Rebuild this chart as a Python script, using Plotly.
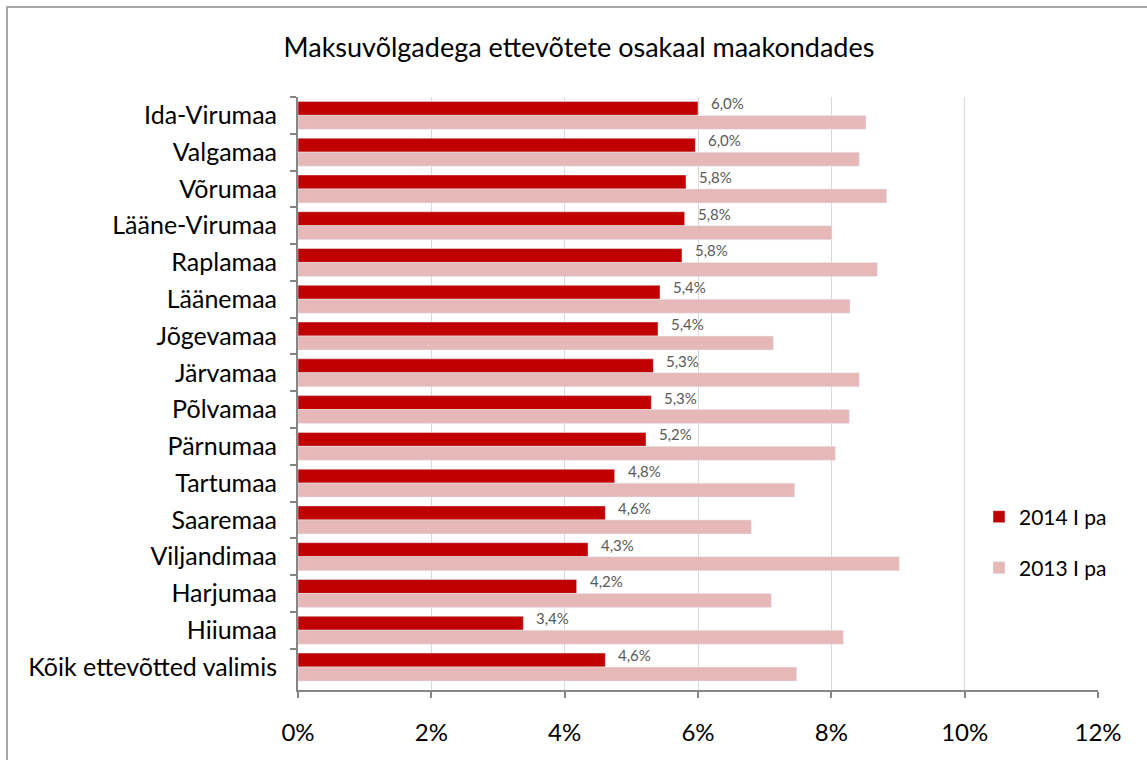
import plotly.graph_objects as go

counties = ["Ida-Virumaa", "Valgamaa", "Võrumaa", "Lääne-Virumaa", "Raplamaa",
            "Läänemaa", "Jõgevamaa", "Järvamaa", "Põlvamaa", "Pärnumaa",
            "Tartumaa", "Saaremaa", "Viljandimaa", "Harjumaa", "Hiiumaa",
            "Kõik ettevõtted valimis"]
share_2014 = [6.0, 5.96, 5.82, 5.80, 5.76, 5.43, 5.40, 5.33, 5.30, 5.22,
              4.75, 4.61, 4.35, 4.18, 3.38, 4.61]
share_2013 = [8.52, 8.42, 8.83, 8.01, 8.69, 8.28, 7.13, 8.42, 8.27, 8.06,
              7.45, 6.80, 9.02, 7.10, 8.18, 7.48]
labels_2014 = ["6,0%", "6,0%", "5,8%", "5,8%", "5,8%", "5,4%", "5,4%", "5,3%",
               "5,3%", "5,2%", "4,8%", "4,6%", "4,3%", "4,2%", "3,4%", "4,6%"]

FONT = "Lato, 'Open Sans', sans-serif"

fig = go.Figure()
fig.add_trace(go.Bar(y=counties, x=[v / 100 for v in share_2014], orientation="h",
                     name="2014 I pa", marker_color="#C00000", showlegend=True, legend="legend"))
fig.add_trace(go.Bar(y=counties, x=[v / 100 for v in share_2013], orientation="h",
                     name="2013 I pa", marker_color="#E6B9B8", showlegend=True, legend="legend2"))

# data labels above-right of the 2014 bars
for c, v, t in zip(counties, share_2014, labels_2014):
    fig.add_annotation(x=v / 100, y=c, text=t, showarrow=False, xanchor="left",
                       xshift=11, yshift=12, font=dict(size=15, color="#595959", family=FONT))

# outer chart frame
fig.add_shape(type="rect", xref="paper", yref="paper",
              x0=(7 - 298) / 800, x1=(1160 - 298) / 800,
              y0=(690 - 780) / 593, y1=(690 - 7) / 593,
              line=dict(color="#8c8c8c", width=1.5), layer="below")

fig.update_layout(
    width=1147, height=760,
    margin=dict(l=298, r=49, t=97, b=70),
    paper_bgcolor="white", plot_bgcolor="white",
    barmode="group", bargap=0.24, bargroupgap=0,
    showlegend=True,
    font=dict(family=FONT, color="black"),
    title=dict(text="Maksuvõlgadega ettevõtete osakaal maakondades",
               x=579 / 1147, xref="container", xanchor="center", y=1 - 48 / 760, yanchor="middle",
               font=dict(size=27, family=FONT, color="black")),
    xaxis=dict(range=[0, 0.12], dtick=0.02, tickformat=".0%",
               showgrid=True, gridcolor="#d9d9d9", gridwidth=1,
               showline=True, linecolor="#868686", linewidth=2,
               ticks="outside", ticklen=6, tickcolor="#868686", tickwidth=2,
               ticklabelstandoff=14,
               tickfont=dict(size=24, family=FONT, color="black"), zeroline=False),
    yaxis=dict(autorange="reversed", showline=True, linecolor="#868686", linewidth=2,
               ticks="outside", ticklen=6, tickcolor="#868686", tickwidth=2,
               tickson="boundaries", showgrid=False, ticklabelstandoff=14,
               tickfont=dict(size=25, family=FONT, color="black")),
    legend=dict(x=(979 - 298) / 800, y=(690 - 517) / 593, xanchor="left", yanchor="middle",
                font=dict(size=21, family=FONT, color="black"), bgcolor="rgba(0,0,0,0)"),
    legend2=dict(x=(979 - 298) / 800, y=(690 - 568) / 593, xanchor="left", yanchor="middle",
                 font=dict(size=21, family=FONT, color="black"), bgcolor="rgba(0,0,0,0)"),
)

fig.write_html("out.html", config={"displayModeBar": False},
               post_script="document.body.style.margin='0';")
